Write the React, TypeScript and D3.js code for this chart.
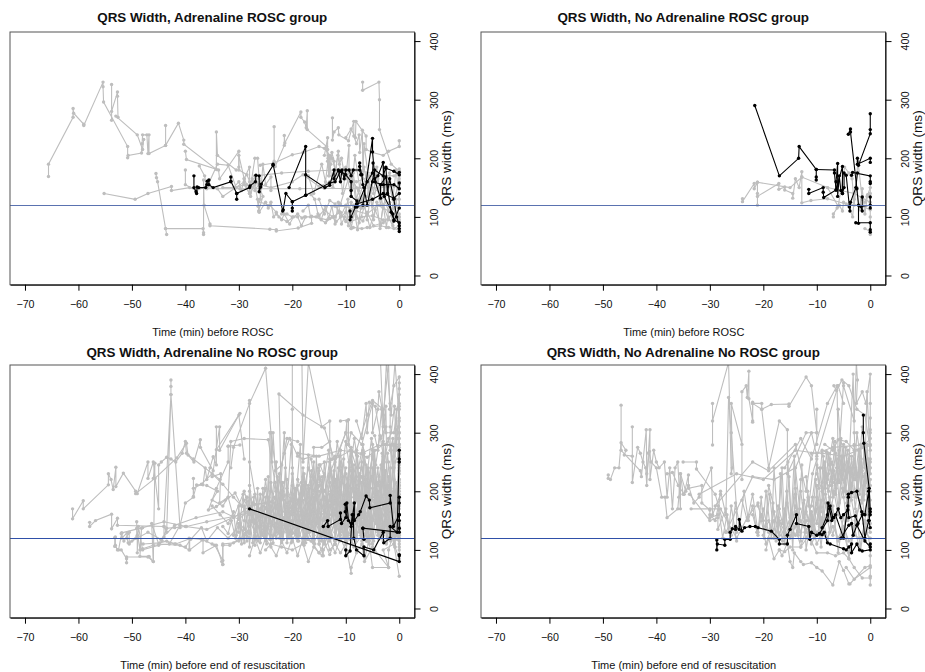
import React, { useEffect, useRef } from "react";
import * as d3 from "d3";

// traces are flat lists: minute, ms, minute, ms ...
const adrRoscGrey: number[][] = [
  [-65.6,169, -65.6,190, -61,270, -61,285, -60.9,277, -59,258, -59,256, -55.4,330, -55.4,322, -55.3,296, -50.8,220, -50.8,201, -50.7,205, -48.2,209, -48.1,225, -48,240, -47.2,240, -47,208, -46.8,240, -46.8,208, -43.7,222, -43.7,256, -43.7,222, -41.3,260, -40.3,231, -40.3,224, -34.2,181, -34.2,245, -34,205, -30.5,180],
  [-53.8,326, -53.8,265, -53.8,280, -52.7,313, -52.7,306, -52.6,270, -53,272, -49,240, -48,215, -47.8,232],
  [-55.2,140, -49.4,130, -47,140, -42.6,152, -42.6,145, -39.2,150, -36,148, -29.8,148, -26,148, -18.6,148, -14,149, -9,148, -4,150, -1,152, 0,155],
  [-45.5,174, -45.4,167, -45.2,160, -43.7,80, -43.5,70, -43.7,80, -36.7,80, -36.6,70, -36.6,73, -36.6,163, -36.5,120, -35.4,88, -35.4,85, -24.2,79, -23,78, -23,76, -18.9,81, -16.4,89, -16.4,101, -13.5,95, -12.5,100, -11,108, -9,80, -8.6,82, -7,80, -6,82, -3.5,85, -2,82, 0,78],
  [-40,212, -39.8,198, -33.8,180, -33.6,165, -30,212, -30,180, -28.5,172, -27.5,150],
  [-37.4,187, -36.4,170, -36,150, -34,190, -32,188, -30.5,150, -29,155, -28,140, -27,200, -26.5,200, -26.2,165],
  [-40,180, -40,155, -38,145, -36,152, -34,148, -33,135, -29,160, -27.8,135, -27,170, -25.5,135, -26.3,110, -26.3,126, -24.2,120, -23,108, -22.5,100, -21,92, -19,105, -18.2,98, -17.7,100],
  [-26,188, -23.4,192, -20,206, -18,210, -15,220, -14,217, -13,205, -12.5,200, -12,180, -10,170, -8,160, -5,170],
  [-23.4,254, -23.4,195, -23.2,186, -21.5,222, -21.5,239, -21.4,226, -18.4,279, -18.4,270, -17.7,262, -17.4,252, -17.2,281, -17.2,249, -13.6,220, -13.4,195, -13.2,170, -12.9,200],
  [-12.5,269, -12.5,231, -12.2,245, -11.4,252, -11.3,240, -9.5,230, -8.5,263, -8.5,238, -8,225, -7.5,240, -7.4,210, -6.9,248, -6.8,165, -6.6,225, -5.8,170],
  [-10,235, -9,250, -8.2,235, -8.1,263, -6.2,238, -6.2,215, -5,210, -3,205, -2,212, 0,220, 0,230],
  [-6.85,330, -6.85,316, -3.8,330, -3.7,300, -3.7,249, -1.5,190, 0,178, 0,165, 0,150],
  [-27,170, -22,175, -17,178, -12,180, -8,180, -4,172, -1,170, 0,178, 0,182],
  [-28,160, -24,150, -20,160, -18,172, -15,152, -13,160, -10,185, -8,150, -7,128, -6,160, -3,135, -2,110, 0,120, 0,140],
  [-22,105, -21,105, -20,100, -19,100, -18.3,85, -17.5,100, -15.5,100, -13.8,90, -13,97, -12,100, -11.3,110, -10,92, -9,125, -8,100, -6.8,93, -6,108, -4.8,85, -3,90, -2,100, -1,80, 0,85],
  [-15,130, -14,105, -13,128, -12,122, -11,100, -10,120, -9.5,85, -8.5,120, -7.5,90, -6.5,118, -5.5,82, -4.5,112, -3.5,88, -3,120, -2,95, -1,115, 0,100],
  [-17,170, -16,140, -14.5,190, -13.8,160, -13.2,205, -12.4,150, -11.4,212, -10.6,140, -10,180, -9,135, -8.3,205, -7.4,150, -6.6,185, -5.5,130, -4.6,175, -3.5,120, -2.5,165, -1.5,110, 0,160],
  [-12,118, -10,118, -8,110, -6,105, -4,120, -2,110, 0,95, 0,105, 0,90],
  [-11,122, -9,180, -8,120, -6,175, -5,118, -4,165, -3,115, -2,160, -1,120, 0,170],
  [-18,110, -17,120, -16.6,100, -15,102, -14,112, -12.5,100, -11.8,92, -10,108, -9,92, -7,100, -5,102, -3,95, -1,93, 0,100],
  [-33,150, -31,150, -30,160, -29.5,145, -29,165, -28.5,155, -28,150, -27.5,165, -27,145, -26,160, -26,130, -25.5,190, -25,155, -24,168, -24,145],
  [-30,185, -30,205, -29,165, -28,185, -28,140, -27,155, -26.5,130, -26.4,118, -26.2,108, -25,125, -24.5,115, -24,125, -23.5,100, -23,105, -22,95, -21.5,105, -20.5,88, -19.8,100],
  [-14,205, -13.4,235, -13.4,215, -13.3,200, -13.2,185, -13.1,170, -12.8,190, -12.6,210, -12.2,195, -12,172, -11.5,205, -11.2,190, -10.8,200, -10.4,180, -10,165, -9.4,222, -9.4,175, -9,150, -8.6,175, -8,130, -7.6,145, -7,115],
  [-16.5,138, -15.8,130, -15.2,105, -14.6,95, -13.8,118, -13.2,98, -12.6,118, -12,88, -11.4,125, -10.8,88, -10.2,100, -9.6,130, -9,80, -8.4,110, -7.8,78, -7.2,115, -6.6,125, -6,95, -5.4,135, -4.8,95, -4.2,125, -3.6,80, -3,120, -2.4,82, -1.8,125, -1.2,85, -0.6,130, 0,90],
  [-6,135, -5.4,170, -4.8,140, -4.2,185, -3.6,130, -3,185, -2.4,140, -1.8,175, -1.2,130, -0.6,180, 0,130, 0,115],
];

const adrRoscBlack: number[][] = [
  [-38.4,170, -38.4,150, -38,143, -37.9,140, -37.8,151, -37.5,150, -36.2,150, -36,155, -35.9,161, -35.6,163, -35.6,155, -34.8,150, -31.5,160, -31.5,168, -31.5,161, -30.4,140, -30.4,130, -30.4,140, -28,150, -27.9,153, -26.9,160, -26.8,171, -26.2,170, -26.2,143, -25.9,151, -25.8,156, -23.6,188, -23.6,190, -21.8,110, -21.7,112, -21.2,140, -20,126, -20,115, -20,110],
  [-20.6,150, -17.5,220, -17.5,137, -17.5,172, -13.9,150, -13,154, -12.2,180, -12.2,165, -11.4,180, -11,160, -10.7,180, -10.3,165, -10,180, -9.4,180, -9,170, -8.6,180, -7.4,180, -7.2,172],
  [-20,126, -17.5,137, -13,158, -12,160, -11,178, -10,172, -9,160, -9,145, -9,135, -7.9,127, -7.9,117, -6,160, -5,175, -4.9,192],
  [-9.2,110, -9.2,95, -9,100, -8.2,117, -6.8,120, -5,234, -5,211, -4.5,160, -3.5,132, -3.5,155, -2.5,168, -1.5,108, -1,95, 0,90, 0,75],
  [-7.4,192, -7.4,186, -7,172, -6.8,155, -6.6,150, -6,120, -4.6,180, -3,170, -2.5,185, -2.2,140, -1.8,165, -1,130, -0.5,100, 0,85, 0,80],
  [-4.6,165, -4,170, -3,193, -2.8,135, -1.2,105, -1,93, 0,115],
  [-8,122, -5,130, -3,140, -1,132, 0,140],
  [-5,160, -3,155, -1,155, 0,148, 0,158],
  [-2.5,183, -1,178, 0,172, 0,176],
];

const noAdrRoscGrey: number[][] = [
  [-23.9,131, -23.9,126, -21.7,157, -21.7,148, -21.1,159, -21.1,120, -21.1,140, -21.1,135, -17.1,157, -17.1,147, -16,151, -16,146, -14.5,140, -14.5,132, -14,165, -13.3,150, -12.8,177, -12.8,168, -12.8,124, -11.1,128, -8,131, -4.5,122, -2,120, 0,112],
  [-21.1,159, -15,150, -12.8,168, -8,150, -3,140, 0,125, 0,160],
  [-6.9,100, -6.9,105, -6.2,115, -5.8,120, -5.2,110, -5,125, -4,118, -3.3,100, -3,130, -2.5,150, -2,112, -1.5,148, -1,105, -0.5,138, 0,140, 0,100, 0,70, 0,75, -1,80],
  [-8,150, -6,118, -4.8,185, -4,175, -3.4,165, -3,120, -2.3,195, -1.5,130, -1,125, -0.6,135, 0,150],
];

const noAdrRoscBlack: number[][] = [
  [-21.6,290, -17,170, -13.4,200, -13.3,220, -10.1,181, -10.1,168, -10.1,163],
  [-11.5,147, -11.5,140, -8.8,150, -8.8,142, -8.7,133, -6.4,146, -6.4,160, -6.1,191, -6.1,135, -5.8,170, -5.5,145, -5.2,140],
  [-10.1,181, -6.7,180, -6.7,175, -6.4,146, -5.2,186, -5.2,140, -4.9,150, -4.9,175, -4.5,171, -3.9,117, -3.8,110, -3.7,125, -2.7,150, -2.4,175],
  [-4.1,241, -3.7,250, -3.7,245, -2.5,148, -2.2,120, -2.2,89, -2.7,90, 0,90, 0,78, 0,74],
  [0,276, 0,249, 0,242, -2.2,188, -2.4,200, -2.4,190, 0,200, 0,193],
  [-3.5,171, -3.3,176, 0,170, 0,160, 0,157],
  [-1.5,134, -1.5,110, -1.8,118, 0,120, 0,134, 0,115],
];

const adrNoRoscGrey: number[][] = [
  [-61.1,170, -61.1,153, -59.1,184, -59.1,170, -54.4,211, -54.4,230, -53.9,220, -53.5,203, -53,241, -53,208, -51.6,231, -49.3,200, -49.3,196, -45.7,222, -41.6,257, -39.8,282, -39.5,262, -38.4,250, -37.2,288, -37.2,275, -34.8,235, -33.6,310, -33.6,270, -30,330, -29,255],
  [-49,196, -47,250, -47,222, -46,250, -45,170, -45,245, -44.5,250, -43.5,258, -42.7,255, -41.8,250, -40.6,265, -40,285, -39.8,265, -38.5,255, -33.5,220],
  [-42.7,390, -42.7,379, -42.7,365, -44,140, -43.5,130, -42.7,365, -41,138],
  [-57.9,147, -57.9,140, -56.8,150, -53.8,161, -53.8,136, -52.7,154, -52.7,142, -44,140, -44,122, -43.5,137, -42,138, -40,140, -36,135, -30,160, -28,175, -25,180],
  [-53.1,122, -53.1,108, -52.7,100, -52,100, -51,85, -51,78, -51,88, -47,88, -46,80, -46.3,145, -45,110, -41,108, -39.3,100, -39.3,120, -37,118, -35,110, -34.5,108, -33,82, -33,75, -33,110, -31,112, -29,120],
  [-52,128, -51.5,115, -50.5,130, -50.5,110, -49,125, -49,95, -48.8,140, -48,100, -45,108, -44.4,116, -42,110, -40,105, -39,118, -37,138, -36,115, -34,138, -32,120, -30,140, -28,120],
  [-50,115, -47,130, -44.6,118, -42,142, -38,155, -33,165, -30,152, -27,178, -24,182],
  [-48,102, -46,108, -43,110, -41,142, -40,180, -38.5,190, -38.5,205, -37,212, -35,230, -33,212, -31,190, -28,160, -28,355, -28,250, -26.5,170],
  [-36,210, -34,200, -35,185, -33,175, -32,190, -31,155, -29,200, -27,145, -28,210],
  [-35,225, -33.4,230, -33.6,180, -32,190, -31.5,285, -29,290, -24.5,288, -23,200, -21,290, -19,285],
  [-31.5,240, -31,275, -28,350, -25,410, -24,300, -22,160, -22.5,366, -18,330, -14,308, -12,250, -10,300, -8,240],
  [-20,420, -20,240, -20,150, -20,340, -20,420],
  [-18.2,420, -18,250, -17,420, -14.5,310, -13,320, -13,230, -10,300, -9.8,320, -9.8,280, -8,262],
  [-24.2,300, -24.2,160, -23,250, -22.5,160, -21.5,300, -21,180, -20.2,280, -19.5,170, -18.5,280, -18,120, -17,262, -16,150, -15.5,260, -15,120, -14,250, -13,150],
  [-30,115, -29,175, -28,128, -27.2,190, -26.4,115, -25.5,205, -24.8,110, -24,215, -23.2,125, -22.4,230, -21.7,118, -21,220, -20.2,112, -19.5,205, -18.8,115, -18,240, -17.2,118, -16.5,225, -15.8,110],
  [-30,130, -29.2,195, -28.5,115, -27.6,175, -26.8,135, -26,195, -25.2,122, -24.4,190, -23.6,112, -22.8,225, -22,130, -21.3,240, -20.6,120, -19.9,195, -19,140, -18.3,215, -17.5,112, -16.8,205, -16,125, -15.2,240],
  [-31,125, -30,160, -29,112, -28,200, -27,125, -26,170, -25,150, -24,125, -23,200, -22,112, -21,165, -20,128, -19,210, -18,135, -17,180, -16,115, -15,200, -14,115, -13,230],
  [-26,140, -25,220, -24,140, -23,170, -22,215, -21,140, -20,230, -19,160, -18,210, -17,135, -16,250, -15,130, -14,230, -13,115, -12,260, -11,130, -10,240],
  [-25,100, -24,110, -22,105, -20,100, -18,110, -17,80, -16,105, -15,95, -14.4,90, -14.2,140, -13,100, -12,110, -11,95, -10,110, -9,60, -9,70, -8,95, -7,110, -6.5,80, -5,105, -2,70, -3,100, -1,110, 0,55],
  [-28,90, -27,120, -26,95, -25,120, -23,90, -22,115, -21,95, -20,120, -19,90, -18,120, -16.5,115, -15,95, -14,112, -13,92, -12,115],
  [-14,150, -13,215, -12,130, -11,235, -10.2,125, -9.4,250, -8.6,120, -7.8,260, -7,115, -6.2,245, -5.4,125, -4.6,270, -3.8,118, -3,260, -2.2,120, -1.4,280, -0.6,125, 0,300],
  [-14.5,210, -13.6,120, -12.8,200, -12,118, -11.2,260, -10.4,140, -9.6,220, -8.8,110, -8,270, -7.2,140, -6.4,220, -5.6,110, -4.8,230, -4,135, -3.2,265, -2.4,112, -1.6,240, -0.8,105, 0,220],
  [-16,130, -15,180, -14,165, -13,240, -12,150, -11,270, -10,170, -9,275, -8,150, -7,250, -6,130, -5,280, -4,150, -3,220, -2,130, -1,270, 0,280, 0,145],
  [-13,125, -12,190, -11,125, -10,210, -9,130, -8,190, -7,120, -6,190, -5,110, -4,200, -3,135, -2,200, -1,110, 0,195, 0,115],
  [-12,120, -11,175, -10,118, -9,170, -8,125, -7,215, -6,115, -5,175, -4,130, -3,180, -2,118, -1,150, 0,130],
  [-19,265, -15,260, -11,270, -7,265, -4,278, -1,280, 0,280],
  [-15,245, -12,255, -9,270, -6,258, -3,280, 0,275, 0,340],
  [-11,320, -9.5,322, -9.5,280, -9,300, -7,280, -5,350, -5,300, -4,340, -3.8,370, -3,330, -2,420, -1.8,340, -1,380, 0,395, 0,375, 0,350],
  [-3.5,420, -3,310, -2.4,420, -1.5,330, -0.8,420, 0,320, 0,260, 0,240],
  [-8,270, -6,330, -5,355, -3,340, -2.5,300, -1,300, 0,365, 0,300, 0,200],
  [-9,150, -8,225, -6,150, -5,240, -3.8,140, -3,250, -1.8,130, -1,200, 0,210, 0,160],
  [-25,155, -21,195, -17,145, -12,185, -8,165, -4,150, 0,175],
  [-6,140, -5,70, -2,70, -2,100, -1,130, 0,150, 0,120, 0,100],
  [-28.5,130, -27.5,150, -26.8,118, -25.8,160, -25,132, -24,165, -23,120, -22,148, -21,130, -20,175, -19,125, -18,150, -17,118, -16,165, -15,128, -14,155, -13,122, -12,150],
  [-21,205, -19.5,170, -18,195, -16.5,160, -15,210, -13.5,175, -12,220, -10.5,165, -9,205, -7.5,175, -6,200, -4.5,160, -3,215, -1.5,170, 0,190],
  [-29,185, -27,150, -25,170, -23,145, -21,175, -19,150, -17,190, -15,150, -13,185, -11,145, -9,180, -7,145, -5,185, -3,145, -1,180, 0,140],
  [-53.2,121, -53.2,106, -52.5,100, -51.9,129, -51.9,120, -50.9,129, -50.9,120, -50.7,112, -49.1,120, -49.1,148, -49.1,137, -48.5,100, -48.2,137, -48.5,89, -46.8,89, -46,80, -45.7,248, -46,222],
  [-47.9,110, -44.8,112, -43.5,115, -41.8,110, -39.2,119, -39.2,100, -36.7,117, -36.7,95, -34.2,108, -33.2,80, -33,75, -33,108, -31.7,108, -29.8,120],
  [-51.9,129, -48,138, -44,148, -39.8,140, -36,148, -31,157, -29.8,160, -27,165],
  [-38.5,222, -38.5,191, -37.9,211, -36.7,211, -36.3,240, -36,220, -35.4,240, -34.8,259, -34.2,245, -34.2,310, -34.2,271, -29.8,333],
  [-32,277, -29.8,279, -32,277, -32,250, -34.2,205, -35.7,168, -34.2,174, -32.5,185, -30.7,197, -29.5,175, -28.5,190],
  [-35,175, -33.5,160, -32,145, -31,165, -30.5,125, -30,175, -29.5,110, -29,150, -28.5,190, -28,105, -27.5,180, -27,108, -26.5,205, -26,112, -25.5,175, -25,125, -24.5,225, -24,105],
  [-33,140, -32,128, -31.4,150, -30.6,120, -29.8,145, -29,135, -28.2,168, -27.4,112, -26.6,160, -25.8,130, -25,190, -24.2,118, -23.4,180, -22.6,138, -21.8,200, -21,112, -20.2,172, -19.4,128, -18.6,195, -17.8,108, -17,210, -16.2,118],
  [-24,165, -23.2,215, -22.4,120, -21.6,185, -20.8,140, -20,210, -19.2,125, -18.4,170, -17.6,215, -16.8,130, -16,190, -15.2,155, -14.4,225, -13.6,128, -12.8,175, -12,215, -11.2,115, -10.4,185, -9.6,140, -8.8,235, -8,130],
  [-20,160, -19.4,205, -18.6,150, -17.8,230, -17,160, -16.2,140, -15.4,215, -14.6,115, -13.8,190, -13,160, -12.2,235, -11.4,145, -10.6,225, -9.8,120, -9,190, -8.2,115, -7.4,230, -6.6,145, -5.8,240, -5,135, -4.2,215, -3.4,125, -2.6,235, -1.8,120, -1,220, 0,125],
  [-18,185, -17,135, -16,225, -15,170, -14,130, -13,195, -12,140, -11,215, -10,150, -9,235, -8,165, -7,125, -6,220, -5,150, -4,240, -3,115, -2,225, -1,165, 0,235],
  [-23,140, -22,195, -21,155, -20,130, -19,185, -18,165, -17,145, -16,180, -15,225, -14,175, -13,135, -12,205, -11,165, -10,130, -9,225, -8,145, -7,195, -6,115, -5,205, -4,170, -3,125, -2,190, -1,135, 0,205],
  [-27,195, -26,150, -25,115, -24,175, -23,155, -22,125, -21,150, -20,195, -19,115, -18,140, -17,205, -16,155, -15,110, -14,175, -13,140, -12,110, -11,195, -10,135, -9,125, -8,210, -7,155, -6,240, -5,120, -4,190, -3,140, -2,250, -1,125, 0,250],
  [-13,250, -12,170, -11.4,240, -10.5,120, -9.8,200, -9.2,160, -8.5,245, -7.8,190, -7.2,125, -6.6,265, -6,175, -5.4,135, -4.8,255, -4.2,190, -3.6,145, -3,285, -2.4,150, -1.8,215, -1.2,145, -0.6,305, 0,220],
  [-11,200, -10.4,255, -9.8,150, -9.2,270, -8.6,205, -8,145, -7.4,225, -6.8,270, -6.2,115, -5.6,215, -5,270, -4.4,145, -3.8,225, -3.2,180, -2.6,280, -2,170, -1.4,125, -0.8,250, 0,265],
  [-9,250, -8,205, -7,240, -6,210, -5,260, -4,210, -3.4,245, -2.8,195, -2.2,265, -1.6,205, -1,240, -0.4,185, 0,215, 0,190, 0,230],
  [-7,180, -6.4,135, -5.8,175, -5.2,130, -4.6,190, -4,125, -3.4,170, -2.8,130, -2.2,180, -1.6,120, -1,190, -0.4,118, 0,170, 0,125],
  [-15,110, -14.2,90, -14.2,100, -13,118, -12,95, -11,120, -10,100, -9.5,120, -8.5,105, -7,125, -6.4,88, -5.6,120, -4.6,100, -3.6,125, -2.4,110, -1.6,128, -0.8,105, 0,85, 0,110],
  [-27,135, -26,120, -25,140, -24,118, -23,135, -22,118, -21,142, -20,115, -19,138, -18,112, -17,130, -16,112, -15,130, -14,110, -13,132, -12,110, -11,140, -10,115],
  [-30,145, -29,125, -28,150, -27,130, -26,145, -25,135, -24,148, -23,130, -22,150, -21,135, -20,150, -19,135, -18,160, -17,145, -16,175, -15,145, -14,190, -13,150, -12,170, -11,155, -10,175],
  [-19,220, -18,195, -17,240, -16,200, -15,235, -14,185, -13,255, -12,195, -11,250, -10,205, -9,260, -8,195, -7,225, -6,195, -5,225],
  [0,345, 0,325, 0,310, 0,290, 0,265, 0,245, 0,235, 0,210, 0,185, 0,135, 0,105],
  [-1.7,350, -1.7,310, -1.7,270, -1.2,290, -1,260, -0.5,340, -0.4,290, -0.2,310, 0,385],
  [-8,320, -7,290, -6.2,350, -6,300, -5.6,352, -4.5,345, -3.5,290, -2.5,310],
  [-4.6,295, -4,270, -3.3,340, -3,280, -2.5,345, -2.4,280, -1.5,300, -0.9,345, -0.5,270],
  [-25,172, -24,200, -24,300, -23.8,250, -23.6,300, -23.2,235, -22,245, -21.5,265, -20.5,290, -19,260, -18,255, -16,260, -16,275, -14.5,275, -13,285, -12.5,255],
  [-16.5,255, -15.6,205, -14.8,245, -14,225, -13.2,270, -12.4,210, -11.6,285, -10.8,230, -10,285, -9.2,235, -8.4,290, -7.6,240, -6.8,280, -6,230, -5.2,290, -4.4,245, -3.6,295, -2.8,250, -2,290, -1.2,240, -0.4,290],
  [-19,180, -18,225, -17.2,195, -16.4,235, -15.6,185, -14.8,220, -14,200, -13.2,225, -12.4,180, -11.6,220, -10.8,175, -10,230, -9.2,185, -8.4,220, -7.6,165, -6.8,225, -6,185, -5.2,225, -4.4,165, -3.6,210, -2.8,160, -2,210, -1.2,175, -0.4,215],
  [-26,170, -25,205, -24.2,150, -23.4,190, -22.6,165, -21.8,215, -21,165, -20.2,185, -19.4,155, -18.6,175, -17.8,150, -17,170, -16.2,195, -15.4,145, -14.6,185, -13.8,150, -13,175, -12.2,160, -11.4,190, -10.6,155, -9.8,170, -9,150, -8.2,165, -7.4,130, -6.6,175],
  [-28,140, -27.2,165, -26.4,140, -25.6,125, -24.8,170, -24,135, -23.2,160, -22.4,130, -21.6,155, -20.8,125, -20,145, -19.2,120, -18.4,145, -17.6,125, -16.8,150, -16,125, -15.2,150, -14.4,125, -13.6,155, -12.8,125, -12,150, -11.2,125, -10.4,150, -9.6,125, -8.8,150, -8,120, -7.2,150, -6.4,125, -5.6,150, -4.8,115, -4,150, -3.2,120, -2.4,150, -1.6,115, -0.8,150, 0,120],
];

const adrNoRoscBlack: number[][] = [
  [-28,170, 0,80, 0,92, 0,90],
  [-14.2,140, -13.4,150, -13.3,140, -11,152, -11,163, -10.8,145, -10,155, -9.8,180, -9.5,150, -8.9,145, -8.6,160, -8.5,120, -8,100, -6.6,90, -6.6,105, -4.8,100, -3,130, -2.9,112, -1.7,120, -1.7,140, -0.4,130, 0,270, 0,255, 0,250],
  [-10.1,178, -10.1,165, -9,140, -8.4,180, -8.4,150, -7.6,160, -7.3,165, -6.2,192, -5.6,185, -5.5,172, -1.7,180, -1.7,193, -1.1,140, 0,160, 0,190, 0,180, 0,150],
  [-10,100, -10,90, -9.2,98, -8.8,160],
  [-6.8,137, -6.6,118, -6.8,137, 0,130, 0,137, 0,160],
];

const noAdrNoRoscGrey: number[][] = [
  [-49,228, -49,222, -48.6,220, -47.8,240, -47,240, -46.6,283, -45.7,270, -46,262, -44.5,260, -44.5,310, -44.5,215, -43.5,275, -43,265, -42.5,250, -42,240, -41.8,210, -41.5,265, -41.2,305, -41.2,220, -40.5,270, -40,250, -39.5,240, -38.5,250, -38,190, -37.5,240, -37,170, -36.5,240, -36,250, -35.5,170, -35.5,230, -35,195],
  [-46.6,347, -46.6,270, -43,235, -42.8,225, -41.9,305, -41.8,230, -41.3,268, -41,250, -40,240, -39,190, -38.4,190, -38,155, -36,170, -35.8,190, -35.5,230, -34.5,200, -34,210, -33,180, -32,190, -29.7,240, -29.5,160, -28,195],
  [-38,230, -37,232, -35.9,210, -34.8,195, -34,228, -34,205, -31.5,210, -31.5,180, -30,168, -30,155, -28.5,160, -28,200, -27,160, -26.5,360, -26,300, -25,170, -25,130],
  [-33.8,195, -30,150, -28.5,155, -28.5,135, -27,170, -26.5,130, -26,175, -25,115],
  [-35,250, -32.5,250, -32.5,238, -29,195, -27,130],
  [-29.5,279, -29.5,350, -29.5,320, -26.5,420, -26,230, -25.8,240, -26,350, -24,280, -24,220, -24,370, -23.2,380, -23,360, -22.7,405, -22.7,358, -22,320, -22,350, -20.3,350, -20.3,340, -18.5,348, -15.2,349, -15.2,345, -12,395, -11,380, -10,300],
  [-22,352, -22,318, -22,350, -20.3,340, -19,240, -17,320, -15.5,305, -15.5,230, -12,300, -10,300, -10,280, -10,340],
  [-33.5,170, -30,170, -28,170, -25,120, -23,155, -21,180, -19.5,110, -18,150],
  [-32,195, -25,230, -20,220, -14,270, -10,265, -7,275, -3,278, 0,280],
  [-29,175, -22,250, -19,235, -14,280, -12,200, -11,265, -9,265, -5,260, 0,278],
  [-27,130, -22,225, -18,220, -14,240, -11,300, -10,260, -6,380, -5,350],
  [-16,240, -13,290, -11,255, -8,350, -6.2,380, -6,240, -5,385, -5,380, -3,320, -2.6,420, -2.4,390, -2.6,350, -1.5,370, -0.8,350, 0,400, 0,350, 0,300],
  [-6.8,380, -6.3,372, -5.3,390, -4,380, -2.5,340, -1,330, 0,270],
  [-6,340, -5,200, -4,240, -3.2,400, -3,300, -2.5,200, -1.5,310, -1,240, -0.6,370, 0,250, 0,325],
  [-22,160, -21,125, -20.4,190, -19.8,120, -19,210, -18.2,180, -17.6,115, -17,170, -16.5,240, -16,135, -15.4,250, -14.8,150, -14.2,260, -13.5,125, -12.8,245, -12.2,130, -11.7,200, -11,130, -10.2,220, -9.5,140, -8.8,260, -8,150, -7.2,210, -6.5,265, -5.8,180, -5,280, -4.2,150, -3.5,260, -2.8,190, -2,260, -1.2,160, 0,210],
  [-21,175, -20,150, -19.5,200, -18.5,120, -18,240, -17.2,130, -16.8,230, -16,110, -15.2,225, -14.5,100, -14,205, -13,115, -12.5,180, -12,100, -11,160, -10.5,120, -10,210, -9,135, -8.5,240, -7.8,200, -7,245, -6.5,195, -5.7,235, -5,190, -4.3,250, -3.5,210, -2.8,240, -2,195, -1.2,255, -0.5,205, 0,240],
  [-10,230, -9,200, -8.5,250, -8,220, -7.5,255, -7,190, -6.3,240, -5.8,215, -5.2,260, -4.6,200, -4,240, -3.5,185, -3,280, -2.4,190, -1.8,250, -1.2,210, -0.6,240, 0,185],
  [-9.5,240, -8.8,185, -8.2,268, -7.6,210, -7,235, -6.4,205, -5.8,270, -5.2,220, -4.6,275, -4,200, -3.4,230, -2.8,220, -2.2,270, -1.6,180, -1,230, -0.4,160, 0,220],
  [-12,150, -11,125, -10,170, -9.2,105, -8.4,180, -7.6,130, -7,175, -6,95, -5,160, -4,85, -3.5,110, -2.6,165, -1.8,100, -1,150, 0,130],
  [-19.5,100, -19,120, -18,85, -17,100, -16.5,90, -15.5,112, -15,80, -14.5,70, -14.2,95, -13,80, -12.5,75, -11,78, -10,70, -9,64, -7,40, -5.8,80, -5,65, -4,42, -3.8,42, -1,70, 0,73, 0,55, 0,40],
  [-17,100, -16,97, -15,105, -13,105, -11.5,125, -10,95, -8,95, -6.5,90, -5,95, -4,85, -3,70, -1.5,52, 0,52],
  [-4.5,70, -3,50, 0,70, 0,90, 0,110],
  [-12,120, -11,150, -10,110, -9,130, -8,115, -7,160, -6,115, -5,130, -4,95, -3,140, -2,102, -1,150, 0,105],
  [-15,145, -14,165, -13,130, -12,165, -11,140, -10,180, -9,125, -8,170, -7,125, -6,170, -5,135, -4,175, -3,130, -2,185, -1,135, 0,170],
  [-8.5,280, -7,270, -6,288, -4.5,285, -3,270, -1.5,275, 0,290, 0,305],
  [-7.8,245, -7,290, -6,220, -5.5,290, -4.5,225, -4,255, -3,220, -2.5,300, -1.5,235, -1,275, 0,240],
  [-30,160, -29,150, -28.4,175, -27.6,120, -26.8,160, -26,125, -25.2,180, -24.4,140, -23.6,200, -22.8,150, -22,175, -21.2,130, -20.4,160, -19.6,135, -18.8,195, -18,120, -17.2,155, -16.4,115, -15.6,200, -14.8,125, -14,240, -13.2,170],
  [-9,240, -8.4,205, -7.8,265, -7.2,225, -6.6,285, -6,215, -5.4,260, -4.8,235, -4.2,270, -3.6,195, -3,255, -2.4,225, -1.8,280, -1.2,195, -0.6,280, 0,200],
  [-11,175, -10,245, -9.2,165, -8.4,230, -7.6,180, -6.8,235, -6,170, -5.2,245, -4.4,180, -3.6,240, -2.8,170, -2,245, -1.2,185, -0.4,255, 0,165],
  [-13,200, -12.4,155, -11.6,190, -10.8,140, -10,190, -9.2,145, -8.4,195, -7.6,150, -6.8,200, -6,160, -5.2,205, -4.4,150, -3.6,190, -2.8,150, -2,175, -1.2,145, -0.4,175, 0,145],
  [-24,185, -23,150, -22,195, -21,130, -20,170, -19,130, -18,165, -17,125, -16,170, -15,120, -14,140, -13,105, -12,135, -11,110, -10,130],
  [-9,215, -8.6,235, -8.2,215, -7.8,230, -7.2,250, -6.6,220, -6,255, -5.4,225, -4.8,215, -4.2,250, -3.6,230, -3,250, -2.4,205, -1.8,235, -1.2,225, -0.6,215, 0,255, 0,230],
  [-17,150, -16,130, -15,155, -14,195, -13.6,130, -13,220, -12,225, -11.5,175, -10.8,230, -10,255, -9.6,205, -9,270, -8,265, -7,215],
  [-18,135, -17.2,175, -16.4,145, -15.6,180, -14.8,140, -14,175, -13.2,150, -12.4,185, -11.6,150, -10.8,190, -10,145, -9.2,185, -8.4,150, -7.6,190, -6.8,160],
  [-20,125, -19,150, -18,120, -17,145, -16,120, -15,145, -14,125, -13,150, -12,130, -11,165, -10,125, -9,155, -8,120, -7,140, -6,120, -5,140, -4,115, -3,125, -2,120, -1,130, 0,120],
];

const noAdrNoRoscBlack: number[][] = [
  [-28.7,117, -28.7,100, -28.6,110, -27.2,108, -27.2,118, -26.2,118, -26.2,130, -25.8,136, -25.2,135, -25.2,140, -24.5,135, -24.5,152, -24,132, -23.5,138, -22.5,140, -21.5,140, -21,138, -18.5,132, -17,118, -17,110, -15.5,110, -15.5,125, -15,135, -13.8,160, -13.8,145, -11.5,140, -11.3,118, -11,130, -10,125, -9,126, -8.6,130, -8,112, -7.5,110, -5,102, -4.5,100, -4,105, -3.5,110, -3.5,95, -2.5,110, -2,100, -1.5,98, 0,100, 0,110],
  [-9,138, -8,160, -7.9,180, -7.6,170, -7.2,150, -6.8,155, -6,170, -5.5,155, -5,160, -4.2,168, -4.1,190, -4.1,195, -3.5,198, -2.5,200, -1.6,165, -1,160, -0.3,200, -0.2,150, 0,170],
  [-9.5,128, -8,150, -7.5,175, -7,155, -6.5,160, -5,120, -4.2,175, -4,155, -2.8,158, -2.3,145, -1.5,160, -1,120, -0.3,150, 0,138],
  [-5.5,120, -4,142, -3.5,145, -3.2,125, -2.5,142, -1,115, 0,105],
  [-1.3,330, -1.3,300, -1.2,282, -0.2,205, 0,165, 0,160],
];

const panels = [
  { title: "QRS Width, Adrenaline ROSC group", xLabel: "Time (min) before ROSC", grey: adrRoscGrey, black: adrRoscBlack, left: 10, top: 32, titleY: -10, ref: "#5a72b0" },
  { title: "QRS Width, No Adrenaline ROSC group", xLabel: "Time (min) before ROSC", grey: noAdrRoscGrey, black: noAdrRoscBlack, left: 481, top: 32, titleY: -10, ref: "#5a72b0" },
  { title: "QRS Width, Adrenaline No ROSC group", xLabel: "Time (min) before end of resuscitation", grey: adrNoRoscGrey, black: adrNoRoscBlack, left: 10, top: 365, titleY: -8, ref: "#2f50a8" },
  { title: "QRS Width, No Adrenaline No ROSC group", xLabel: "Time (min) before end of resuscitation", grey: noAdrNoRoscGrey, black: noAdrNoRoscBlack, left: 481, top: 365, titleY: -8, ref: "#2f50a8" },
];

const xTicks = [-70, -60, -50, -40, -30, -20, -10, 0];
const yTicks = [0, 100, 200, 300, 400];
const boxW = 404.5;
const boxH = 252.7;
const fontFamily = "'Liberation Sans', Arial, sans-serif";

const toPoints = (flat: number[]) => d3.pairs(flat).filter((_, i) => i % 2 === 0);

export default function App() {
  const ref = useRef<SVGSVGElement>(null);

  useEffect(() => {
    const svg = d3.select(ref.current);
    svg.selectAll("*").remove();

    panels.forEach((p, i) => {
      const x = d3.scaleLinear().domain([-72.8, 2.85]).range([0, boxW]);
      const y = d3.scaleLinear().domain([-15.7, 415.5]).range([boxH, 0]);
      const line = d3.line<[number, number]>().x(d => x(d[0])).y(d => y(d[1]));

      const g = svg.append("g").attr("transform", `translate(${p.left},${p.top})`);
      svg.append("clipPath").attr("id", `clip${i}`).append("rect").attr("width", boxW).attr("height", boxH);
      const plot = g.append("g").attr("clip-path", `url(#clip${i})`);

      const drawTraces = (traces: number[][], color: string, width: number, r: number) => {
        traces.forEach(t => {
          const pts = toPoints(t);
          plot.append("path").attr("d", line(pts)).attr("fill", "none").attr("stroke", color).attr("stroke-width", width);
          plot.selectAll(null).data(pts).join("circle")
            .attr("cx", d => x(d[0])).attr("cy", d => y(d[1])).attr("r", r).attr("fill", color);
        });
      };
      drawTraces(p.grey, "#bebebe", 1.1, 1.7);
      drawTraces(p.black, "#000", 1.1, 1.7);

      // keep the reference line on one pixel row
      const refY = Math.floor(y(120)) + 0.5;
      plot.append("line").attr("x1", 0).attr("x2", boxW).attr("y1", refY).attr("y2", refY)
        .attr("stroke", p.ref).attr("stroke-width", 1);

      g.append("rect").attr("width", boxW).attr("height", boxH).attr("fill", "none").attr("stroke", "#555");

      const xAxis = g.append("g").attr("transform", `translate(0,${boxH})`)
        .call(d3.axisBottom(x).tickValues(xTicks).tickSize(6).tickSizeOuter(0).tickFormat(d => (+d < 0 ? "\u2212" + Math.abs(+d) : String(d))));
      xAxis.selectAll("text").attr("font-size", 10.7).attr("font-family", fontFamily).attr("fill", "#111").attr("y", 16);

      const yAxis = g.append("g").attr("transform", `translate(${boxW},0)`)
        .call(d3.axisRight(y).tickValues(yTicks).tickSize(6).tickSizeOuter(0).tickFormat(d => String(d)));
      yAxis.selectAll("text").attr("font-size", 10.7).attr("font-family", fontFamily).attr("fill", "#111")
        .attr("x", 0).attr("dy", 0).attr("text-anchor", "middle").attr("transform", "translate(23.5,0) rotate(-90)");

      g.append("text").attr("x", boxW / 2).attr("y", p.titleY).attr("text-anchor", "middle")
        .attr("font-family", fontFamily).attr("font-weight", "bold").attr("font-size", 13.4).attr("fill", "#111").text(p.title);
      g.append("text").attr("x", boxW / 2 + 0.5).attr("y", 303.5).attr("text-anchor", "middle")
        .attr("font-family", fontFamily).attr("font-size", 11).attr("fill", "#111").text(p.xLabel);
      g.append("text").attr("text-anchor", "middle").attr("transform", `translate(${boxW + 31},${y(200)}) rotate(-90)`)
        .attr("y", 5).attr("font-family", fontFamily).attr("font-size", 13.6).attr("fill", "#111").text("QRS width (ms)");
    });
  }, []);

  return <svg ref={ref} width={925} height={672} style={{ position: "absolute", left: 0, top: 0, background: "#fff" }} />;
}
